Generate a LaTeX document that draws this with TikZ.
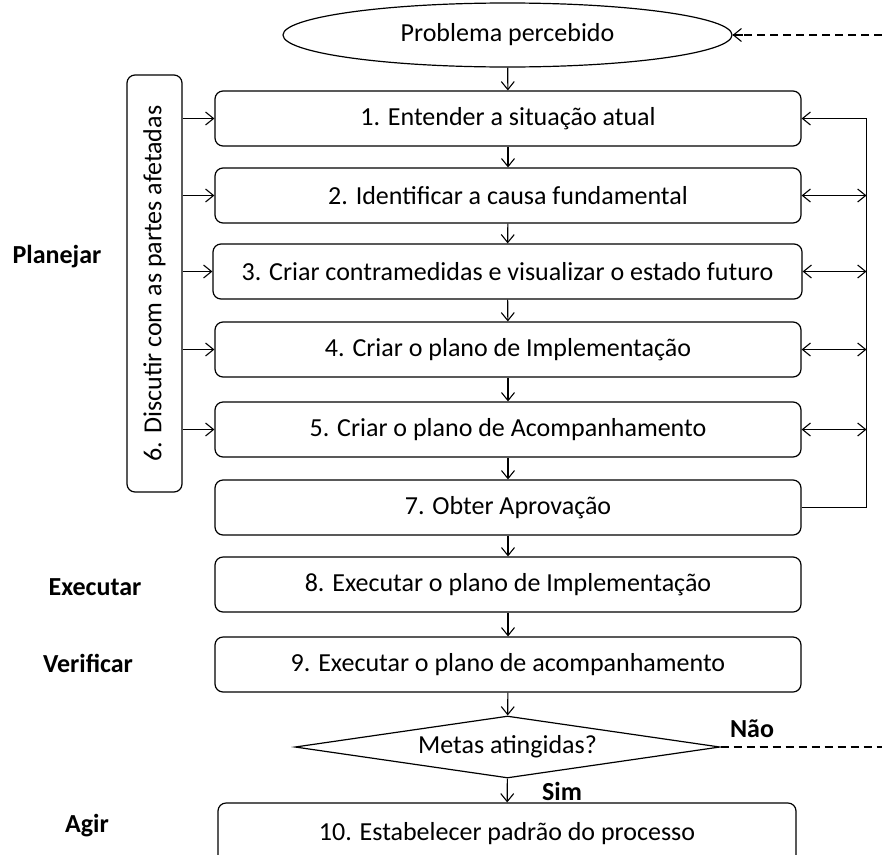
\documentclass[tikz,border=0pt]{standalone}
\usepackage{fontspec}
\setmainfont{Carlito}
\usetikzlibrary{arrows.meta,shapes.geometric}

\begin{document}
\begin{tikzpicture}[x=1pt,y=-1pt,
  txt/.style={font=\fontsize{26}{30}\selectfont},
  phase/.style={font=\fontsize{26}{30}\selectfont\bfseries},
  stepbox/.style={draw, line width=1.2pt, rounded corners=8pt, inner sep=0pt,
    minimum width=586pt, minimum height=55pt, txt},
  flow/.style={line width=1.1pt, -{Straight Barb[length=8pt,width=13pt,line width=1.1pt]}},
  both/.style={line width=1.1pt, {Straight Barb[length=8pt,width=13pt,line width=1.1pt]}-{Straight Barb[length=8pt,width=13pt,line width=1.1pt]}},
  loop/.style={line width=1.3pt, dash pattern=on 8pt off 5pt}]

\useasboundingbox (0,0) rectangle (882,854);

% start
\node[draw, ellipse, line width=1.2pt, minimum width=449pt, minimum height=64pt,
  inner sep=0pt, txt] (start) at (507.5,35) {Problema percebido};

% steps
\node[stepbox] (b1) at (508,118.5) {1. Entender a situação atual};
\node[stepbox] (b2) at (508,195.5) {2. Identificar a causa fundamental};
\node[stepbox, minimum width=589pt] (b3) at (507.5,271.5) {3. Criar contramedidas e visualizar o estado futuro};
\node[stepbox] (b4) at (508,349.5) {4. Criar o plano de Implementação};
\node[stepbox] (b5) at (508,429.5) {5. Criar o plano de Acompanhamento};
\node[stepbox] (b7) at (508,507.5) {7. Obter Aprovação};
\node[stepbox] (b8) at (508,584.5) {8. Executar o plano de Implementação};
\node[stepbox] (b9) at (508,664.5) {9. Executar o plano de acompanhamento};
\node[draw, diamond, aspect=6.85, line width=1.2pt, inner sep=0pt,
  minimum width=425pt, minimum height=62pt, txt] (goal) at (507.5,747) {Metas atingidas?};
\node[stepbox, minimum width=578pt, minimum height=62pt] (b10) at (507,834) {10. Estabelecer padrão do processo};

% side box
\node[draw, line width=1.2pt, rounded corners=8pt, inner sep=0pt,
  minimum width=55pt, minimum height=417pt, txt] (side) at (154.5,283.5)
  {\rotatebox{90}{6. Discutir com as partes afetadas}};

% phase labels
\node[phase] (p1) at (57,257) {Planejar};
\node[phase] (p2) at (95,587) {Executar};
\node[phase] (p3) at (88,663) {Verificar};
\node[phase] (p4) at (87,826) {Agir};
\node[phase] (no) at (752,729) {Não};
\node[phase] (yes) at (562,791) {Sim};

% main flow
\draw[flow] (start) -- (b1);
\draw[flow] (b1) -- (b2);
\draw[flow] (b2) -- (b3);
\draw[flow] (b3) -- (b4);
\draw[flow] (b4) -- (b5);
\draw[flow] (b5) -- (b7);
\draw[flow] (b7) -- (b8);
\draw[flow] (b8) -- (b9);
\draw[flow] (b9) -- (goal);
\draw[flow] (goal) -- (b10);

% discussion feeds steps 1-5
\foreach \b in {b1,b2,b3,b4,b5}
  \draw[flow] (side.east |- \b.west) -- (\b.west);

% feedback bus on the right
\coordinate (bus) at (866.5,0);
\draw[flow] (b7.east) -| (bus |- b1.east) -- (b1.east);
\foreach \b in {b2,b3,b4,b5}
  \draw[both] (\b.east) -- (\b.east -| bus);

% loop back when goals are not met
\coordinate (edgeT) at (882,35);
\coordinate (edgeB) at (882,747);
\draw[loop] (goal.east) -- (edgeB);
\draw[loop] (edgeT) -- (start.east);
\draw[flow] ([xshift=10pt]start.east) -- (start.east);
\end{tikzpicture}
\end{document}
